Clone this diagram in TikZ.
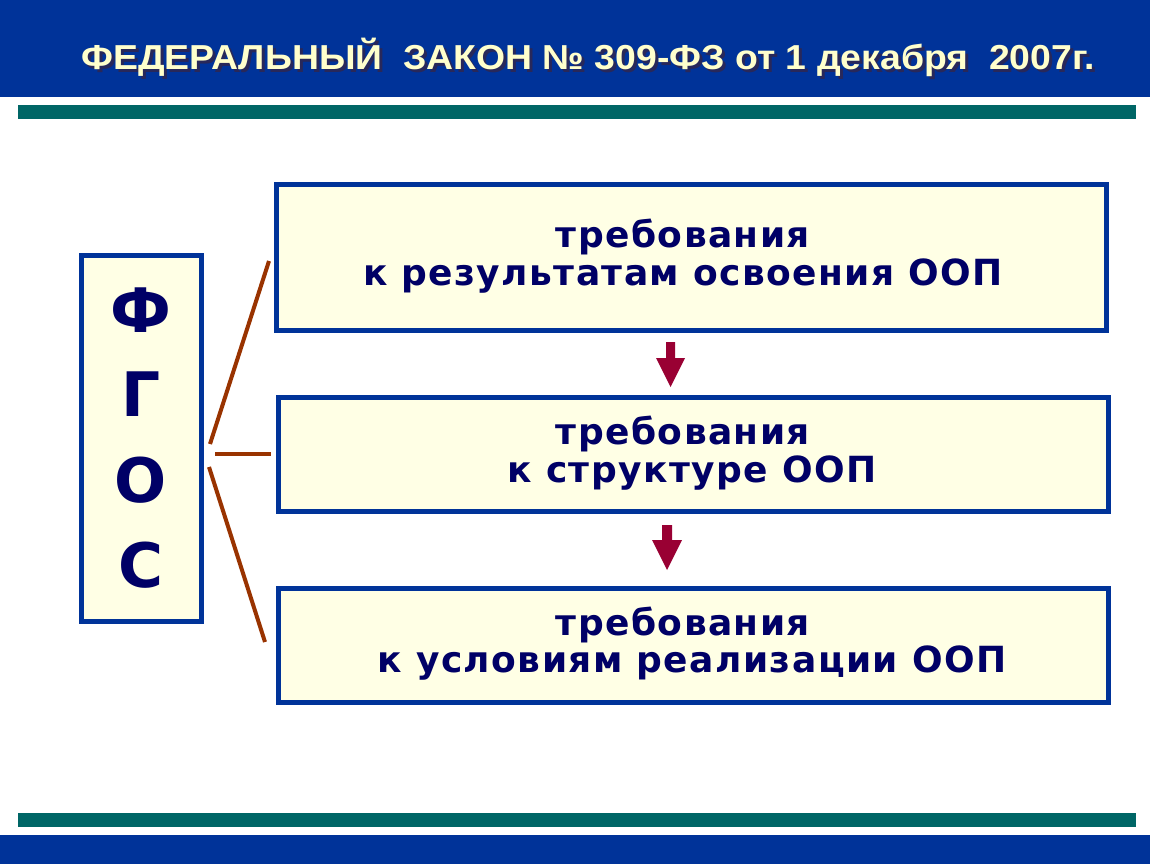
\documentclass[tikz,border=0pt]{standalone}
\usepackage{fontspec}
\usepackage{graphicx}
\setmainfont{DejaVu Sans}
\newfontfamily\titlefont{Liberation Sans}
\newfontfamily\boxfont[LetterSpace=4]{DejaVu Sans}
\newlength\pxu
\setlength\pxu{0.75pt}
\definecolor{bandblue}{RGB}{0,51,153}
\definecolor{bargreen}{RGB}{0,102,102}
\definecolor{boxfill}{RGB}{255,255,229}
\definecolor{navy}{RGB}{0,0,102}
\definecolor{titleyellow}{RGB}{255,255,204}
\definecolor{titleshadow}{RGB}{40,40,90}
\definecolor{linkbrown}{RGB}{153,51,0}
\definecolor{arrowred}{RGB}{153,0,51}
\newcommand{\titletext}{ФЕДЕРАЛЬНЫЙ\ \ ЗАКОН № 309-ФЗ от 1 декабря\ \ 2007г.}
\begin{document}
\begin{tikzpicture}[x=0.75pt,y=-0.75pt,
  reqbox/.style={draw=bandblue,line width=3.75pt,fill=boxfill,inner sep=0pt},
  reqtext/.style={text=navy,font=\boxfont\bfseries\fontsize{27}{32}\selectfont,align=center},
  fgosletter/.style={text=navy,font=\bfseries\fontsize{46}{50}\selectfont,anchor=base},
  link/.style={draw=linkbrown,line width=3pt},
  downarrow/.style={fill=arrowred,draw=none}]
\useasboundingbox (0,0) rectangle (1150,864);
\fill[white] (0,0) rectangle (1150,864);
% bands
\fill[bandblue] (0,0) rectangle (1150,97);
\fill[bargreen] (18,105) rectangle (1136,119);
\fill[bargreen] (18,813) rectangle (1136,827);
\fill[bandblue] (0,835) rectangle (1150,864);
% title with shadow
\node[font=\titlefont\bfseries\fontsize{26}{30}\selectfont,anchor=base,inner sep=0pt] (title) at (588,69)
  {\makebox[0pt][l]{\hspace{3\pxu}\raisebox{-3\pxu}{\color{titleshadow}\resizebox{1013\pxu}{\height}{\titletext}}}%
   \color{titleyellow}\resizebox{1013\pxu}{\height}{\titletext}};
% boxes
\node[reqbox,minimum width=830\pxu,minimum height=146\pxu] (b1) at (691.5,257.5) {};
\node[reqbox,minimum width=830\pxu,minimum height=114\pxu] (b2) at (693.5,454.5) {};
\node[reqbox,minimum width=830\pxu,minimum height=114\pxu] (b3) at (693.5,645.5) {};
\node[reqtext,anchor=base] (t1a) at (683,247) {требования};
\node[reqtext,anchor=base] (t1b) at (683,285) {к результатам освоения ООП};
\node[reqtext,anchor=base] (t2a) at (683,444) {требования};
\node[reqtext,anchor=base] (t2b) at (692,482) {к структуре ООП};
\node[reqtext,anchor=base] (t3a) at (683,635) {требования};
\node[reqtext,anchor=base] (t3b) at (692,672) {к условиям реализации ООП};
% FGOS box
\node[reqbox,minimum width=120\pxu,minimum height=366\pxu] (fgos) at (141,438) {};
\node[fgosletter] (l1) at (141,332) {Ф};
\node[fgosletter] (l2) at (141,416) {Г};
\node[fgosletter] (l3) at (141,502) {О};
\node[fgosletter] (l4) at (141,587) {С};
% connectors
\coordinate (c1s) at (210,444);
\coordinate (c1e) at (269,261);
\coordinate (c2s) at (215,454);
\coordinate (c2e) at (271,454);
\coordinate (c3s) at (209,467);
\coordinate (c3e) at (265,642);
\draw[link] (c1s) -- (c1e);
\draw[link] (c2s) -- (c2e);
\draw[link] (c3s) -- (c3e);
% arrows
\fill[downarrow] (666,342) -- (675,342) -- (675,358) -- (685,358) -- (670.5,387) -- (656,358) -- (666,358) -- cycle;
\fill[downarrow] (662,525) -- (672,525) -- (672,540) -- (682,540) -- (667,570) -- (652,540) -- (662,540) -- cycle;
\end{tikzpicture}
\end{document}
